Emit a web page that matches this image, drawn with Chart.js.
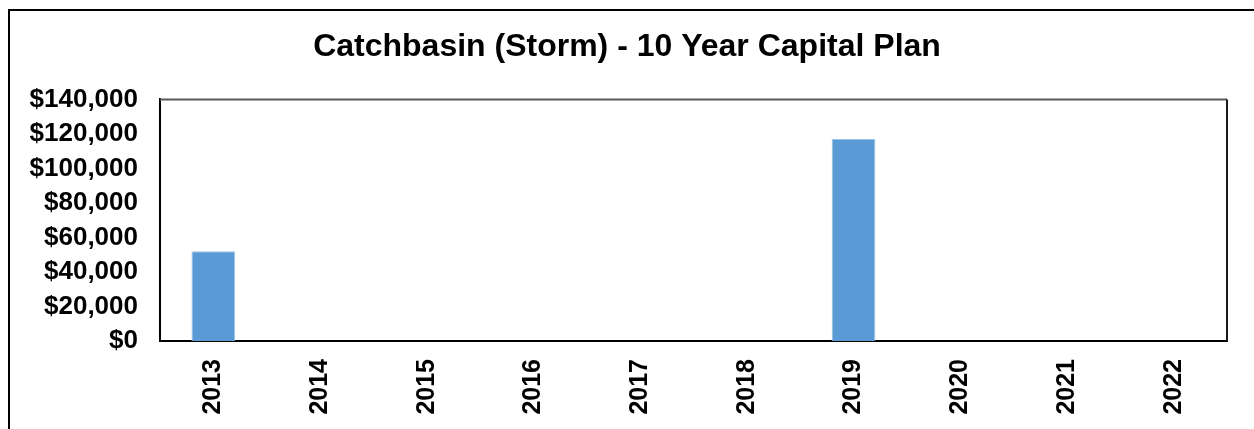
<!DOCTYPE html>
<html>
<head>
<meta charset="utf-8">
<script src="https://cdn.jsdelivr.net/npm/chart.js@4"></script>
<style>
  html, body { margin: 0; padding: 0; background: #fff; overflow: hidden; }
  #frame { position: absolute; left: 8px; top: 9px; width: 1300px; height: 480px; border: 2px solid #000; box-sizing: border-box; }
  #wrap { position: absolute; left: 0; top: 0; width: 1254px; height: 429px; }
</style>
</head>
<body>
<div id="frame"></div>
<div id="wrap"><canvas id="chart" width="1254" height="429"></canvas></div>
<script>
const years = ['2013', '2014', '2015', '2016', '2017', '2018', '2019', '2020', '2021', '2022'];
const costs = [52000, 0, 0, 0, 0, 0, 117000, 0, 0, 0];
const chartTitle = 'Catchbasin (Storm) - 10 Year Capital Plan';

const FONT = '"Liberation Sans", Arial, sans-serif';

// plot frame: top line grey, right line dark
const frameLines = {
    id: 'frameLines',
    afterDraw(chart) {
        const { ctx, chartArea: a } = chart;
        ctx.save();
        ctx.lineWidth = 2;
        ctx.strokeStyle = '#595959';
        ctx.beginPath(); ctx.moveTo(a.left, a.top); ctx.lineTo(a.right, a.top); ctx.stroke();
        ctx.strokeStyle = '#1a1a1a';
        ctx.beginPath(); ctx.moveTo(a.right, a.top); ctx.lineTo(a.right, a.bottom); ctx.stroke();
        ctx.restore();
    }
};

new Chart(document.getElementById('chart').getContext('2d'), {
    type: 'bar',
    data: {
        labels: years,
        datasets: [{
            data: costs,
            backgroundColor: '#5B9BD5',
            borderColor: '#9DC3E6',
            borderWidth: 1,
            barPercentage: 0.41,
            categoryPercentage: 1
        }]
    },
    options: {
        responsive: false, animation: false,
        layout: { padding: 0 },
        plugins: {
            legend: { display: false },
            tooltip: { enabled: false },
            title: {
                display: true, text: chartTitle, color: '#000',
                font: { family: FONT, size: 32, weight: 'bold' },
                padding: { top: 28, bottom: 33 }
            }
        },
        scales: {
            x: {
                grid: { display: false, drawTicks: false },
                border: { color: '#000', width: 2 },
                ticks: { color: '#000', minRotation: 90, maxRotation: 90, padding: 18, font: { family: FONT, size: 25, weight: 'bold' } },
                afterFit(s) { s.height = 88; }
            },
            y: {
                min: 0, max: 140000,
                grid: { display: false, drawTicks: false },
                border: { color: '#000', width: 2 },
                ticks: {
                    stepSize: 20000, color: '#000', padding: 22,
                    font: { family: FONT, size: 26, weight: 'bold' },
                    callback: v => '$' + v.toLocaleString('en-US')
                },
                afterFit(s) { s.width = 160; }
            },
            // empty right gutter so the title stays centred on the page
            gutter: {
                position: 'right', min: 0, max: 1,
                grid: { display: false, drawTicks: false },
                border: { display: false },
                ticks: { display: false },
                afterFit(s) { s.width = 27; }
            }
        }
    },
    plugins: [frameLines]
});
</script>
</body>
</html>
